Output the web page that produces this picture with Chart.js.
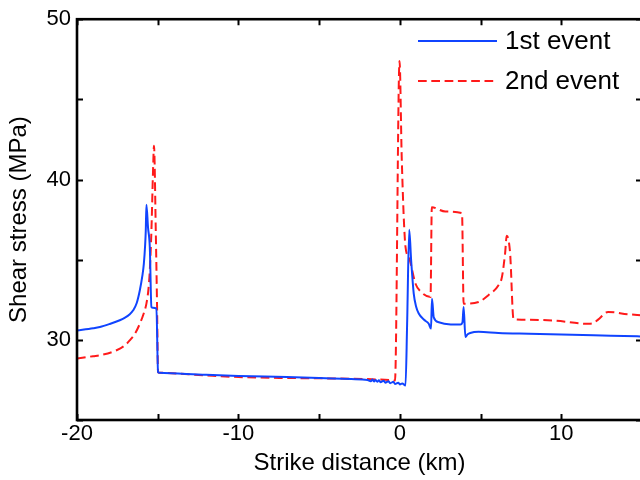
<!DOCTYPE html>
<html>
<head>
<meta charset="utf-8">
<script src="https://cdn.jsdelivr.net/npm/chart.js@4.4.1/dist/chart.umd.min.js"></script>
<style>
  html, body { margin: 0; padding: 0; background: #fff; overflow: hidden; width: 640px; height: 480px; }
  #wrap { width: 650px; height: 480px; }
</style>
</head>
<body>
<div id="wrap"><canvas id="c" width="650" height="480"></canvas></div>
<script>
// Shear stress along strike for the two events (km, MPa)
const event1X = [-20, -19, -18.58, -18, -17.35, -17, -16.75, -16.52, -16.3, -16.11, -15.95, -15.86, -15.78, -15.74, -15.70,
  -15.6, -15.49, -15.39, -15.3, -15.08, -14.98, -14.9, -12, -10, -7, -5, -3, -2,
  -1.8, -1.7, -1.6, -1.5, -1.4, -1.3, -1.2, -1.0, -0.9, -0.7, -0.6, -0.4, -0.3, -0.1, 0.0, 0.15, 0.35,
  0.45, 0.58, 0.7, 0.86, 1.0, 1.17, 1.5, 1.79, 1.93, 1.99, 2.1, 2.41, 3.02, 3.75, 3.88, 3.95, 4.06, 4.2,
  4.36, 4.88, 6.11, 8, 10, 12, 14.7, 15];
const event1Y = [30.58, 30.72, 30.8, 30.98, 31.22, 31.4, 31.58, 31.84, 32.3, 33.08, 34.0, 34.74, 35.9, 36.8, 38.43,
  37.0, 35.78, 32.05, 32.0, 31.95, 28.0, 27.95, 27.82, 27.75, 27.68, 27.62, 27.55, 27.5,
  27.42, 27.52, 27.40, 27.5, 27.38, 27.48, 27.36, 27.45, 27.33, 27.42, 27.3, 27.38, 27.25, 27.33, 27.22, 27.28, 27.15,
  31.0, 36.86, 34.95, 32.88, 32.1, 31.64, 31.25, 31.0, 30.7, 32.57, 31.4, 31.1, 30.97, 30.95, 31.1, 32.05, 30.18, 30.35,
  30.43, 30.5, 30.43, 30.38, 30.33, 30.28, 30.22, 30.21];

const event2X = [-20, -19, -18.58, -17.55, -17, -16.73, -16.4, -16.11, -15.9, -15.70, -15.58, -15.49, -15.39,
  -15.29, -15.23, -15.12, -15.04, -14.98, -14.9, -12, -10, -7, -5, -2, -0.5, -0.3,
  -0.02, 0.12, 0.35, 0.56, 0.97, 1.3, 1.9, 1.98, 2.82, 3.85, 3.95, 4.88, 5.5, 6.11, 6.32, 6.52, 6.62,
  6.83, 7.04, 7.53, 9.61, 11.67, 12.0, 12.28, 12.9, 14.1, 15];
const event2Y = [28.83, 28.98, 29.04, 29.35, 29.68, 29.97, 30.4, 31.0, 31.55, 32.26, 33.1, 34.33, 36.8,
  40.55, 42.1, 36.8, 32.05, 28.0, 27.95, 27.78, 27.68, 27.62, 27.6, 27.55, 27.48, 27.46,
  47.4, 41.2, 35.8, 35.15, 33.5, 33.0, 32.67, 38.27, 38.0, 37.9, 32.25, 32.36, 32.8, 33.4, 33.9, 35.4, 36.5,
  35.4, 31.3, 31.26, 31.2, 31.0, 31.05, 31.26, 31.74, 31.6, 31.53];

const seriesLabels = ['1st event', '2nd event'];
const xTickLabels = [-20, -10, 0, 10];
const yTickLabels = [30, 40, 50];

const FONT = "'Liberation Sans', Arial, Helvetica, sans-serif";
const toPoints = (xs, ys) => xs.map((x, i) => ({ x: x, y: ys[i] }));

// Box frame with inward tick marks on all four sides
const framePlugin = {
  id: 'frame',
  afterDatasetsDraw(chart) {
    const { ctx, chartArea: a, scales } = chart;
    ctx.save();
    ctx.strokeStyle = '#000';
    ctx.lineWidth = 2;
    const len = 6;
    ctx.beginPath();
    scales.x.ticks.forEach(t => {
      const px = Math.round(scales.x.getPixelForValue(t.value)) + 0.5;
      ctx.moveTo(px, a.bottom); ctx.lineTo(px, a.bottom - len);
      ctx.moveTo(px, a.top); ctx.lineTo(px, a.top + len);
    });
    scales.y.ticks.forEach(t => {
      const py = Math.round(scales.y.getPixelForValue(t.value)) + 0.5;
      ctx.moveTo(a.left, py); ctx.lineTo(a.left + len, py);
      ctx.moveTo(a.right, py); ctx.lineTo(a.right - len, py);
    });
    ctx.stroke();
    ctx.lineWidth = 2.6;
    ctx.strokeRect(a.left, a.top, a.right - a.left, a.bottom - a.top);
    ctx.restore();
  }
};

// Legend drawn inside the plot, top right
const insideLegend = {
  id: 'insideLegend',
  afterDraw(chart) {
    const { ctx } = chart;
    ctx.save();
    ctx.font = '26px ' + FONT;
    ctx.textBaseline = 'middle';
    ctx.fillStyle = '#000';
    chart.data.datasets.forEach((ds, i) => {
      const y = 41 + i * 40;
      ctx.strokeStyle = ds.borderColor;
      ctx.lineWidth = ds.borderWidth;
      ctx.setLineDash(ds.borderDash || []);
      ctx.beginPath();
      ctx.moveTo(418, y); ctx.lineTo(497, y);
      ctx.stroke();
      ctx.setLineDash([]);
      ctx.fillText(ds.label, 505, y + 1);
    });
    ctx.restore();
  }
};

new Chart(document.getElementById('c'), {
  type: 'line',
  data: {
    datasets: [
      {
        label: seriesLabels[0],
        data: toPoints(event1X, event1Y),
        borderColor: '#1044ff',
        borderWidth: 2,
        pointRadius: 0,
        cubicInterpolationMode: 'monotone',
        fill: false
      },
      {
        label: seriesLabels[1],
        data: toPoints(event2X, event2Y),
        borderColor: '#ff1a1a',
        borderWidth: 2,
        borderDash: [8.7, 4.6],
        pointRadius: 0,
        cubicInterpolationMode: 'monotone',
        fill: false
      }
    ]
  },
  options: {
    responsive: false,
    animation: false,
    devicePixelRatio: 1,
    layout: { padding: { top: 18, right: 8, left: 0, bottom: 0 } },
    plugins: { legend: { display: false }, tooltip: { enabled: false } },
    scales: {
      x: {
        type: 'linear',
        min: -20, max: 15,
        grid: { display: false, drawTicks: false },
        border: { display: false },
        ticks: {
          stepSize: 5,
          padding: 1,
          maxRotation: 0,
          autoSkip: false,
          color: '#000',
          font: { family: FONT, size: 22 },
          callback: v => xTickLabels.includes(v) ? String(v) : ''
        },
        title: {
          display: true,
          text: 'Strike distance (km)',
          color: '#000',
          font: { family: FONT, size: 24 },
          padding: { top: 0, bottom: 2 }
        },
        afterFit: s => { s.height = 60; }
      },
      y: {
        type: 'linear',
        min: 25, max: 50,
        grid: { display: false, drawTicks: false },
        border: { display: false },
        ticks: {
          stepSize: 5,
          padding: 6,
          autoSkip: false,
          color: '#000',
          font: { family: FONT, size: 22 },
          callback: v => yTickLabels.includes(v) ? String(v) : ''
        },
        title: {
          display: true,
          text: 'Shear stress (MPa)',
          color: '#000',
          font: { family: FONT, size: 24 },
          padding: { top: 5, bottom: 0 }
        },
        afterFit: s => { s.width = 77; }
      }
    }
  },
  plugins: [framePlugin, insideLegend]
});
</script>
</body>
</html>
